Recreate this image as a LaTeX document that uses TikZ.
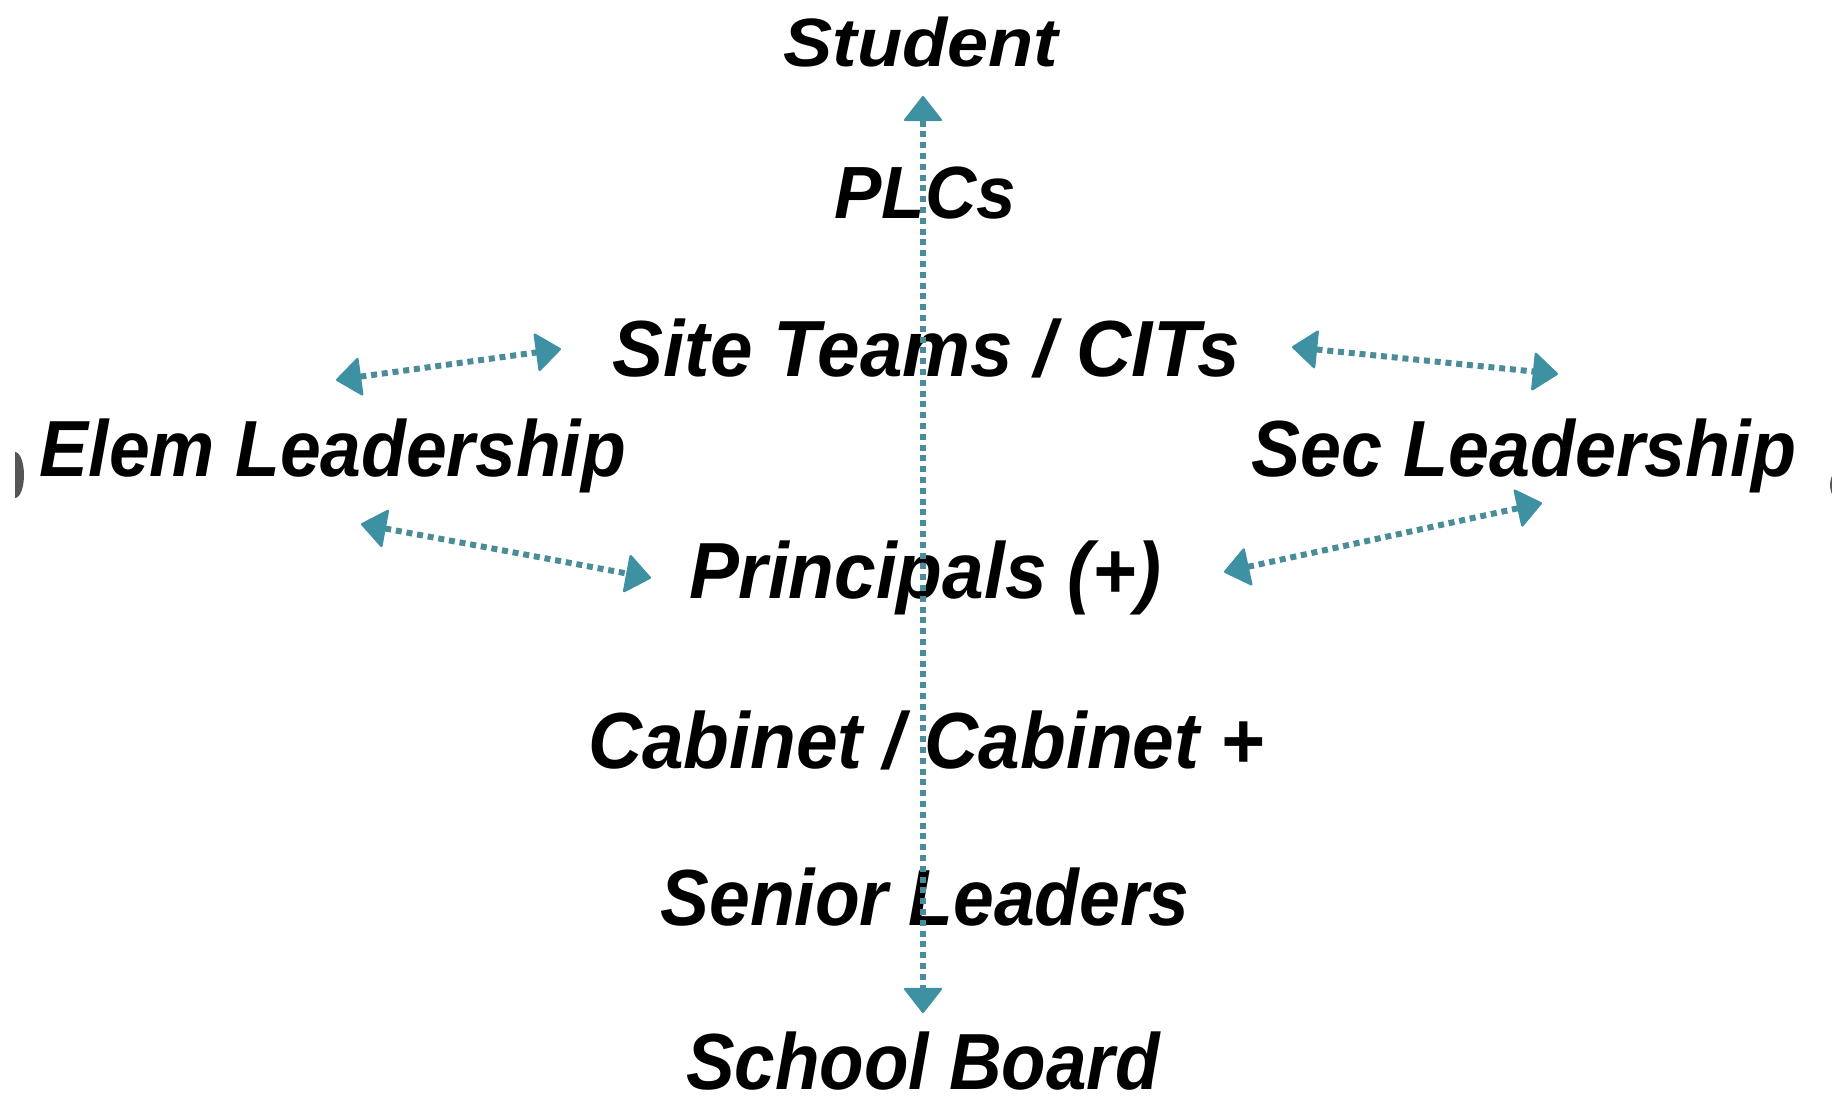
\documentclass[tikz,border=0pt]{standalone}
\usepackage{fontspec}
\setmainfont{Liberation Sans}
\usetikzlibrary{arrows.meta}
\definecolor{dotcol}{RGB}{74,140,152}
\definecolor{headcol}{RGB}{62,145,163}
\definecolor{artgray}{RGB}{85,85,85}
\newcommand{\sqz}[2]{\scalebox{#1}[1]{#2}}
\tikzset{
  lbl/.style={anchor=base, inner sep=0pt, font=\fontsize{39.8}{44}\selectfont\bfseries\itshape},
  conn/.style={draw=dotcol, line width=3pt, dash pattern=on 3pt off 2.4pt,
    {Triangle[width=20pt,length=13pt,round,line width=1.2pt,color=headcol,fill=headcol]}-{Triangle[width=20pt,length=13pt,round,line width=1.2pt,color=headcol,fill=headcol]}},
}
\begin{document}
\begin{tikzpicture}[x=0.5pt,y=-0.5pt]
\useasboundingbox (0,0) rectangle (1832,1103);
\fill[white] (0,0) rectangle (1832,1103);
% edge artefacts
\begin{scope}
  \clip (15,0) rectangle (1832,1103);
  \fill[artgray] (15,475) ellipse [x radius=9, y radius=23];
\end{scope}
\begin{scope}
  \clip (0,0) rectangle (1832,1103);
  \fill[artgray] (1848,485) ellipse [x radius=18, y radius=20];
\end{scope}
% labels
\node[lbl, font=\fontsize{34.2}{38}\selectfont\bfseries\itshape] (student) at (921,66) {\sqz{1.08}{Student}};
\node[lbl, font=\fontsize{37}{41}\selectfont\bfseries\itshape] (plcs) at (925,218) {\sqz{0.96}{PLCs}};
\node[lbl] (site) at (926,376) {\sqz{0.96}{Site Teams / CITs}};
\node[lbl] (elem) at (333,476) {\sqz{0.92}{Elem Leadership}};
\node[lbl] (sec) at (1524,476) {\sqz{0.925}{Sec Leadership}};
\node[lbl] (princ) at (925,598) {\sqz{0.94}{Principals (+)}};
\node[lbl] (cab) at (926,768) {\sqz{0.94}{Cabinet / Cabinet +}};
\node[lbl] (senior) at (925,925) {\sqz{0.92}{Senior Leaders}};
\node[lbl] (board) at (923,1089) {\sqz{0.915}{School Board}};
% arrow end points
\coordinate (vtop) at (923,96);
\coordinate (vbot) at (923,1013);
\coordinate (eu1) at (336,380);
\coordinate (eu2) at (561,349);
\coordinate (el1) at (361,524);
\coordinate (el2) at (651,578);
\coordinate (su1) at (1292,347);
\coordinate (su2) at (1558,374);
\coordinate (sl1) at (1224,572);
\coordinate (sl2) at (1542,503);
% connectors
\draw[conn] (vtop) -- (vbot);
\draw[conn] (eu1) -- (eu2);
\draw[conn] (el1) -- (el2);
\draw[conn] (su1) -- (su2);
\draw[conn] (sl1) -- (sl2);
\end{tikzpicture}
\end{document}
